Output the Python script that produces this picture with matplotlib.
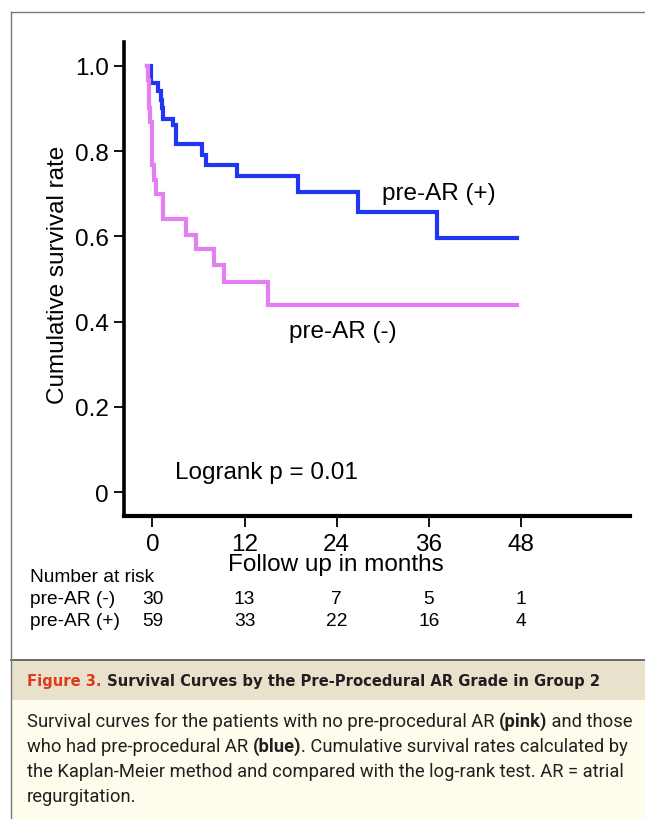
import matplotlib
matplotlib.use("Agg")
import matplotlib.pyplot as plt
from matplotlib import font_manager
from matplotlib.patches import Rectangle
from matplotlib.lines import Line2D
from matplotlib.transforms import blended_transform_factory

# ---------------- data ----------------
months_ticks = [0, 12, 24, 36, 48]
y_ticks = [0, 0.2, 0.4, 0.6, 0.8, 1.0]
y_tick_labels = ["0", "0.2", "0.4", "0.6", "0.8", "1.0"]

blue_t = [-0.75, -0.2, 0.76, 1.07, 1.28, 1.41, 2.71, 3.02, 6.4, 6.97, 11.0, 18.95, 26.8, 37.04, 47.46]
blue_s = [1.0, 0.96, 0.94, 0.92, 0.90, 0.876, 0.861, 0.816, 0.79, 0.768, 0.742, 0.705, 0.656, 0.595, 0.595]

pink_t = [-0.75, -0.62, -0.50, -0.40, -0.28, -0.10, 0.20, 0.46, 1.41, 4.43, 5.66, 8.0, 9.3, 15.04, 47.46]
pink_s = [1.0, 0.967, 0.933, 0.90, 0.867, 0.767, 0.733, 0.70, 0.64, 0.603, 0.571, 0.532, 0.494, 0.44, 0.44]

risk_groups = ["pre-AR (-)", "pre-AR (+)"]
risk_neg = [30, 13, 7, 5, 1]
risk_pos = [59, 33, 22, 16, 4]

caption_title_red = "Figure 3."
caption_title = " Survival Curves by the Pre-Procedural AR Grade in Group 2"
caption_lines = [
    [("Survival curves for the patients with no pre-procedural AR ", "normal"), ("(pink)", "bold"), (" and those", "normal")],
    [("who had pre-procedural AR ", "normal"), ("(blue)", "bold"), (". Cumulative survival rates calculated by", "normal")],
    [("the Kaplan-Meier method and compared with the log-rank test. AR = atrial", "normal")],
    [("regurgitation.", "normal")],
]

# ---------------- fonts ----------------
avail = {f.name for f in font_manager.fontManager.ttflist}
chart_font = ["Liberation Sans", "DejaVu Sans"]
if "Liberation Sans Narrow" in avail:
    title_font, title_stretch = ["Liberation Sans Narrow"], "normal"
else:
    title_font, title_stretch = ["DejaVu Sans"], "condensed"
body_font = ["Roboto", "DejaVu Sans"]
plt.rcParams["font.family"] = chart_font

W, H = 645, 820
fig = plt.figure(figsize=(W / 100, H / 100), dpi=100)


def fx(x):
    return x / W


def fy(y):
    return 1 - y / H


# ---------------- axes ----------------
ax_l, ax_r, ax_t, ax_b = 124, 630, 43, 517
ax = fig.add_axes([fx(ax_l), fy(ax_b), (ax_r - ax_l) / W, (ax_b - ax_t) / H])
ax.set_xlim(-3.71, 62.2)
ax.set_ylim(-0.0556, 1.0556)

ax.step(blue_t, blue_s, where="post", color="#2036f2", lw=3.0, solid_joinstyle="miter", zorder=3)
ax.step(pink_t, pink_s, where="post", color="#e47ef2", lw=3.0, solid_joinstyle="miter", zorder=4)

for s in ["top", "right"]:
    ax.spines[s].set_visible(False)
ax.spines["left"].set_linewidth(2.6)
ax.spines["bottom"].set_linewidth(3.0)

ax.set_xticks(months_ticks)
ax.set_xticklabels([str(m) for m in months_ticks])
ax.set_yticks(y_ticks)
ax.set_yticklabels(y_tick_labels)
ax.tick_params(axis="both", direction="out", length=7, width=1.3, labelsize=17.5, pad=4)
ax.tick_params(axis="x", length=8, pad=4)

ax.set_ylabel("Cumulative survival rate", fontsize=17.5)
ax.yaxis.label.set_verticalalignment("center")
ax.yaxis.set_label_coords((58 - ax_l) / (ax_r - ax_l), (ax_b - 275) / (ax_b - ax_t))
ax.set_xlabel("Follow up in months", fontsize=17.5)
ax.xaxis.label.set_verticalalignment("center")
ax.xaxis.set_label_coords((336 - ax_l) / (ax_r - ax_l), (ax_b - 565) / (ax_b - ax_t))

ax.text(29.9, 0.702, "pre-AR (+)", fontsize=17.5, ha="left", va="center")
ax.text(17.8, 0.378, "pre-AR (-)", fontsize=17.5, ha="left", va="center")
ax.text(2.9, 0.048, "Logrank p = 0.01", fontsize=17.5, ha="left", va="center")

# number at risk table
tr = blended_transform_factory(ax.transData, ax.transAxes)
row_y = [(ax_b - 600) / (ax_b - ax_t), (ax_b - 622) / (ax_b - ax_t)]
head_y = (ax_b - 577) / (ax_b - ax_t)
lab_x = (30 - 152.5) / 7.68
fs_risk = 13.8
ax.text(lab_x, head_y, "Number at risk", fontsize=fs_risk, ha="left", va="center", transform=tr, clip_on=False)
for gi, (g, vals) in enumerate(zip(risk_groups, [risk_neg, risk_pos])):
    ax.text(lab_x, row_y[gi], g, fontsize=fs_risk, ha="left", va="center", transform=tr, clip_on=False)
    for m, v in zip(months_ticks, vals):
        ax.text(m, row_y[gi], str(v), fontsize=fs_risk, ha="center", va="center", transform=tr, clip_on=False)

# ---------------- frame & caption ----------------
fig.add_artist(Rectangle((fx(11), 0), 1 - fx(11), fy(661) - 0, transform=fig.transFigure,
                         facecolor="#fefcec", edgecolor="none", zorder=0))
fig.add_artist(Rectangle((fx(11), fy(701)), 1 - fx(11), fy(661) - fy(701), transform=fig.transFigure,
                         facecolor="#e8e1cb", edgecolor="none", zorder=0))
fig.add_artist(Line2D([fx(11), 1], [fy(661), fy(661)], transform=fig.transFigure, color="#555555", lw=1.2))
fig.add_artist(Line2D([fx(11), fx(11)], [0, fy(13)], transform=fig.transFigure, color="#777777", lw=1.0))
fig.add_artist(Line2D([fx(11), 1], [fy(13), fy(13)], transform=fig.transFigure, color="#777777", lw=1.0))

renderer = fig.canvas.get_renderer()


def place_pieces(pieces, x0, ybase, fontsize, family, stretch="normal", colors=None):
    x = x0
    for i, (txt, weight) in enumerate(pieces):
        col = colors[i] if colors else "#231f20"
        t = fig.text(fx(x), fy(ybase), txt, fontsize=fontsize, family=family, weight=weight,
                     stretch=stretch, color=col, ha="left", va="baseline")
        bb = t.get_window_extent(renderer=renderer)
        x += bb.width
    return x - x0


def measure(pieces, fontsize, family, stretch="normal"):
    tot = 0
    for txt, weight in pieces:
        t = fig.text(0, 0, txt, fontsize=fontsize, family=family, weight=weight, stretch=stretch)
        tot += t.get_window_extent(renderer=renderer).width
        t.remove()
    return tot


# title: fit to target width
title_pieces = [(caption_title_red, "bold"), (caption_title, "bold")]
w0 = measure(title_pieces, 14, title_font, title_stretch)
fs_title = 14 * (603 - 27) / w0
place_pieces(title_pieces, 27, 686, fs_title, title_font, title_stretch, colors=["#dd3b1c", "#231f20"])

# body: fit first line
w1 = measure(caption_lines[0], 13, body_font)
fs_body = 13 * (634 - 27) / w1
for i, line in enumerate(caption_lines):
    place_pieces(line, 27, 727 + 25 * i, fs_body, body_font)

fig.savefig("out.png", dpi=100)
